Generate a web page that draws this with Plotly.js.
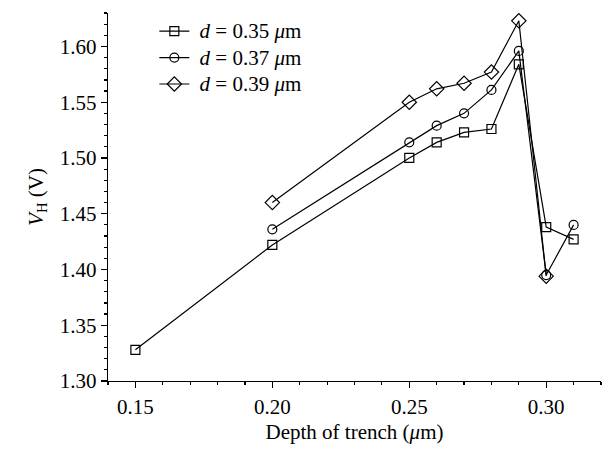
<!DOCTYPE html>
<html>
<head>
<meta charset="utf-8">
<script src="https://cdn.plot.ly/plotly-3.0.1.min.js"></script>
<style>html,body{margin:0;padding:0;background:#fff;}#chart{width:605px;height:452px;}</style>
</head>
<body>
<div id="chart"></div>
<script>
const depthSq = [0.15, 0.20, 0.25, 0.26, 0.27, 0.28, 0.29, 0.30, 0.31];
const vhSq = [1.328, 1.422, 1.500, 1.514, 1.523, 1.526, 1.584, 1.438, 1.427];
const depthCi = [0.20, 0.25, 0.26, 0.27, 0.28, 0.29, 0.30, 0.31];
const vhCi = [1.436, 1.514, 1.529, 1.540, 1.561, 1.596, 1.395, 1.440];
const depthDi = [0.20, 0.25, 0.26, 0.27, 0.28, 0.29, 0.30];
const vhDi = [1.460, 1.550, 1.562, 1.567, 1.577, 1.623, 1.394];
const seriesNames = ['<i>d</i> = 0.35 <i>μ</i>m', '<i>d</i> = 0.37 <i>μ</i>m', '<i>d</i> = 0.39 <i>μ</i>m'];
const xTicks = [0.15, 0.20, 0.25, 0.30];
const yTicks = [1.30, 1.35, 1.40, 1.45, 1.50, 1.55, 1.60];

const font = 'Liberation Serif, Times New Roman, serif';
function tr(x, y, name, sym, group) {
  return {
    x: x, y: y, type: 'scatter', mode: 'lines+markers',
    name: '<span style="font-size:21px"> ' + name + '</span>',
    legendgroup: group,
    line: {color: '#000', width: 1.2},
    marker: {symbol: sym, size: sym === 'diamond-open' ? 11 : 9, color: '#000', line: {color: '#000', width: 1.2}},
    cliponaxis: false
  };
}
const data = [
  tr(depthSq, vhSq, seriesNames[0], 'square-open', 'a'),
  tr(depthCi, vhCi, seriesNames[1], 'circle-open', 'b'),
  tr(depthDi, vhDi, seriesNames[2], 'diamond-open', 'c')
];
const layout = {
  width: 605, height: 452,
  margin: {l: 107.5, r: 3.5, t: 13, b: 71},
  paper_bgcolor: '#fff', plot_bgcolor: '#fff',
  font: {family: font, size: 21, color: '#000'},
  showlegend: true,
  legend: {x: 0.094, y: 1.0, xanchor: 'left', yanchor: 'top', bgcolor: 'rgba(0,0,0,0)',
           font: {family: font, size: 18}, traceorder: 'grouped', tracegroupgap: 0},
  xaxis: {
    range: [0.14, 0.32], showgrid: false, zeroline: false,
    showline: true, linecolor: '#000', linewidth: 1.3,
    ticks: 'outside', ticklen: 6, tickwidth: 1.2, tickcolor: '#000',
    tickvals: xTicks, ticktext: xTicks.map(v => v.toFixed(2)),
    minor: {dtick: 0.01, tick0: 0.14, ticks: 'outside', ticklen: 3, tickwidth: 1.2, tickcolor: '#000', showgrid: false},
    tickfont: {family: font, size: 21},
    title: {text: 'Depth of trench (<i>μ</i>m)', font: {family: font, size: 21}, standoff: 6}
  },
  yaxis: {
    range: [1.30, 1.63], showgrid: false, zeroline: false,
    showline: true, linecolor: '#000', linewidth: 1.3,
    ticks: 'outside', ticklen: 6, tickwidth: 1.2, tickcolor: '#000',
    tickvals: yTicks, ticktext: yTicks.map(v => v.toFixed(2)),
    minor: {dtick: 0.01, tick0: 1.30, ticks: 'outside', ticklen: 3, tickwidth: 1.2, tickcolor: '#000', showgrid: false},
    tickfont: {family: font, size: 21},
    title: {text: '<i>V</i><sub>H</sub> (V)', font: {family: font, size: 21}, standoff: 10}
  }
};
Plotly.newPlot('chart', data, layout, {displayModeBar: false, staticPlot: true});
</script>
</body>
</html>
